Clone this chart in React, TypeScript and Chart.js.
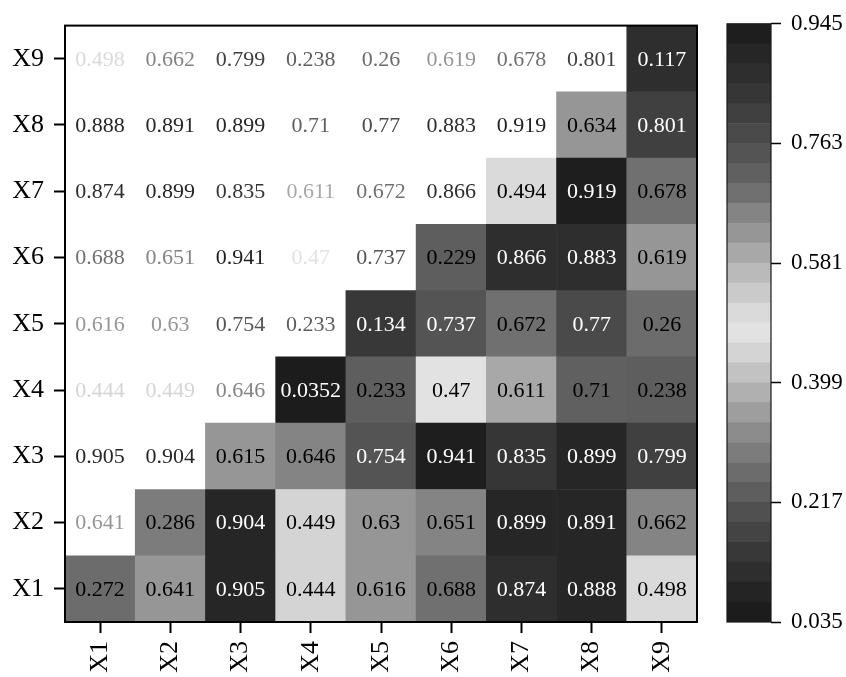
import React, { useEffect, useRef } from "react";
import { Chart, registerables } from "chart.js";

Chart.register(...registerables);

const CATEGORIES = ["X1", "X2", "X3", "X4", "X5", "X6", "X7", "X8", "X9"];

const ROW_X1 = [0.272, 0.641, 0.905, 0.444, 0.616, 0.688, 0.874, 0.888, 0.498];
const ROW_X2 = [0.641, 0.286, 0.904, 0.449, 0.63, 0.651, 0.899, 0.891, 0.662];
const ROW_X3 = [0.905, 0.904, 0.615, 0.646, 0.754, 0.941, 0.835, 0.899, 0.799];
const ROW_X4 = [0.444, 0.449, 0.646, 0.0352, 0.233, 0.47, 0.611, 0.71, 0.238];
const ROW_X5 = [0.616, 0.63, 0.754, 0.233, 0.134, 0.737, 0.672, 0.77, 0.26];
const ROW_X6 = [0.688, 0.651, 0.941, 0.47, 0.737, 0.229, 0.866, 0.883, 0.619];
const ROW_X7 = [0.874, 0.899, 0.835, 0.611, 0.672, 0.866, 0.494, 0.919, 0.678];
const ROW_X8 = [0.888, 0.891, 0.899, 0.71, 0.77, 0.883, 0.919, 0.634, 0.801];
const ROW_X9 = [0.498, 0.662, 0.799, 0.238, 0.26, 0.619, 0.678, 0.801, 0.117];

const MATRIX = [ROW_X1, ROW_X2, ROW_X3, ROW_X4, ROW_X5, ROW_X6, ROW_X7, ROW_X8, ROW_X9];

const CBAR_MIN = 0.035;
const CBAR_MAX = 0.945;
const CBAR_TICKS = [0.035, 0.217, 0.399, 0.581, 0.763, 0.945];

// gray levels of the 30-step colormap, from lowest value to highest
const CMAP_GRAYS = [
  0x1c, 0x24, 0x2e, 0x38, 0x44, 0x50, 0x5e, 0x6c, 0x7c, 0x8c,
  0x9e, 0xb0, 0xc2, 0xd4, 0xe2, 0xda, 0xca, 0xba, 0xa8, 0x96,
  0x84, 0x70, 0x60, 0x54, 0x4a, 0x40, 0x36, 0x2e, 0x26, 0x1e,
];

const FONT_FAMILY = "'Liberation Serif', 'Times New Roman', serif";

function bandIndex(v: number): number {
  const n = CMAP_GRAYS.length;
  let k = Math.floor(((v - CBAR_MIN) / (CBAR_MAX - CBAR_MIN)) * n);
  if (k < 0) k = 0;
  if (k > n - 1) k = n - 1;
  return k;
}
function grayCss(g: number): string {
  return `rgb(${g},${g},${g})`;
}
function cmapColor(v: number): string {
  return grayCss(CMAP_GRAYS[bandIndex(v)]);
}

const W_MAIN = 712;
const W_CBAR = 134;
const H = 677;

export default function App() {
  const mainRef = useRef<HTMLCanvasElement | null>(null);
  const cbarRef = useRef<HTMLCanvasElement | null>(null);

  useEffect(() => {
    const datasets = MATRIX.map((row, r) => ({
      label: CATEGORIES[r],
      data: CATEGORIES.map(() => [r + 0.5, r + 1.5]),
      backgroundColor: row.map((v, c) => (c >= r ? cmapColor(v) : "rgba(0,0,0,0)")),
      borderWidth: 0,
      grouped: false,
      barPercentage: 1,
      categoryPercentage: 1,
    }));

    const cellText = {
      id: "cellText",
      afterDatasetsDraw(chart: any) {
        const ctx = chart.ctx;
        const xs = chart.scales.x;
        const ys = chart.scales.y;
        ctx.save();
        ctx.font = `22px ${FONT_FAMILY}`;
        ctx.textAlign = "center";
        ctx.textBaseline = "middle";
        MATRIX.forEach((row, r) => {
          row.forEach((v, c) => {
            let color: string;
            if (c >= r) {
              color = CMAP_GRAYS[bandIndex(v)] < 0x5a ? "#ffffff" : "#000000";
            } else {
              color = cmapColor(v);
            }
            ctx.fillStyle = color;
            ctx.fillText(String(v), xs.getPixelForValue(c), ys.getPixelForValue(r + 1) + 1);
          });
        });
        ctx.restore();
      },
      afterDraw(chart: any) {
        const { left, top, right, bottom } = chart.chartArea;
        const ctx = chart.ctx;
        ctx.save();
        ctx.strokeStyle = "#000";
        ctx.lineWidth = 2;
        ctx.strokeRect(left, top, right - left, bottom - top);
        ctx.restore();
      },
    };

    const main = new Chart(mainRef.current as HTMLCanvasElement, {
      type: "bar",
      data: { labels: CATEGORIES, datasets: datasets as any },
      options: {
        animation: false,
        responsive: false,
        maintainAspectRatio: false,
        layout: { padding: { left: 0, top: 15, right: W_MAIN - 697, bottom: 0 } },
        plugins: { legend: { display: false }, tooltip: { enabled: false } },
        scales: {
          x: {
            type: "category",
            offset: true,
            grid: {
              offset: false,
              drawOnChartArea: false,
              drawTicks: true,
              tickLength: 11,
              tickWidth: 2,
              tickColor: "#000",
            },
            border: { display: false },
            ticks: {
              maxRotation: 90,
              minRotation: 90,
              padding: 8,
              color: "#000",
              font: { family: FONT_FAMILY, size: 26 },
            },
            afterFit(s: any) {
              s.height = 55;
            },
          },
          y: {
            type: "linear",
            min: 0.5,
            max: 9.5,
            grid: {
              drawOnChartArea: false,
              drawTicks: true,
              tickLength: 11,
              tickWidth: 2,
              tickColor: "#000",
            },
            border: { display: false },
            afterBuildTicks(s: any) {
              s.ticks = CATEGORIES.map((_, i) => ({ value: i + 1 }));
            },
            ticks: {
              padding: 10,
              color: "#000",
              font: { family: FONT_FAMILY, size: 26 },
              callback: (v: any) => CATEGORIES[Math.round(Number(v)) - 1] ?? "",
            },
            afterFit(s: any) {
              s.width = 65;
            },
          },
        },
      } as any,
      plugins: [cellText],
    });

    const n = CMAP_GRAYS.length;
    const step = (CBAR_MAX - CBAR_MIN) / n;
    const cbarSets = CMAP_GRAYS.map((g, k) => ({
      data: [[CBAR_MIN + k * step, CBAR_MIN + (k + 1) * step]],
      backgroundColor: grayCss(g),
      borderWidth: 0,
      grouped: false,
      barPercentage: 1,
      categoryPercentage: 1,
    }));

    const cbarBorder = {
      id: "cbarBorder",
      afterDraw(chart: any) {
        const { left, top, right, bottom } = chart.chartArea;
        const ctx = chart.ctx;
        ctx.save();
        ctx.strokeStyle = "#1a1a1a";
        ctx.lineWidth = 1.2;
        ctx.strokeRect(left, top, right - left, bottom - top);
        ctx.restore();
      },
    };

    const cbar = new Chart(cbarRef.current as HTMLCanvasElement, {
      type: "bar",
      data: { labels: [""], datasets: cbarSets as any },
      options: {
        animation: false,
        responsive: false,
        maintainAspectRatio: false,
        layout: { padding: { left: 727 - W_MAIN, top: 15, right: 0, bottom: H - 622 } },
        plugins: { legend: { display: false }, tooltip: { enabled: false } },
        scales: {
          x: { type: "category", display: false },
          y: {
            type: "linear",
            position: "right",
            min: CBAR_MIN,
            max: CBAR_MAX,
            grid: {
              drawOnChartArea: false,
              drawTicks: true,
              tickLength: 10,
              tickWidth: 1.5,
              tickColor: "#000",
            },
            border: { display: false },
            afterBuildTicks(s: any) {
              s.ticks = CBAR_TICKS.map((v) => ({ value: v }));
            },
            ticks: {
              padding: 10,
              color: "#000",
              font: { family: FONT_FAMILY, size: 23 },
              callback: (v: any) => Number(v).toFixed(3),
            },
            afterFit(s: any) {
              s.width = W_CBAR - (771 - W_MAIN);
            },
          },
        },
      } as any,
      plugins: [cbarBorder],
    });

    return () => {
      main.destroy();
      cbar.destroy();
    };
  }, []);

  return (
    <div style={{ position: "fixed", left: 0, top: 0, width: W_MAIN + W_CBAR, height: H, background: "#fff" }}>
      <canvas
        ref={mainRef}
        width={W_MAIN}
        height={H}
        style={{ position: "absolute", left: 0, top: 0, width: W_MAIN, height: H }}
      />
      <canvas
        ref={cbarRef}
        width={W_CBAR}
        height={H}
        style={{ position: "absolute", left: W_MAIN, top: 0, width: W_CBAR, height: H }}
      />
    </div>
  );
}
